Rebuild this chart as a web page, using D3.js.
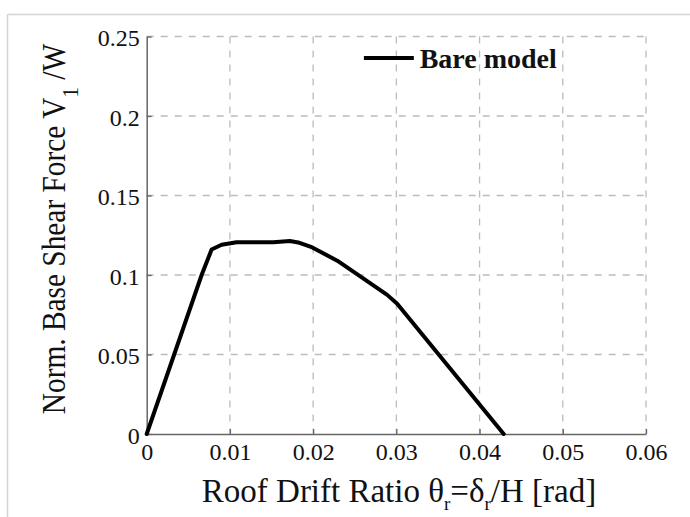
<!DOCTYPE html>
<html>
<head>
<meta charset="utf-8">
<script src="https://cdn.jsdelivr.net/npm/d3@7"></script>
<style>
  body { margin: 0; background: #fff; }
  svg { display: block; font-family: "Liberation Serif", "Times New Roman", serif; }
</style>
</head>
<body>
<svg id="chart"></svg>
<script>
// pushover curve, bare model
var drift = [0, 0.0066, 0.0078, 0.009, 0.0108, 0.0152, 0.0172, 0.0182, 0.0199, 0.0229, 0.0261, 0.0289, 0.0301, 0.0429];
var shear = [0, 0.100, 0.116, 0.119, 0.1206, 0.1206, 0.1214, 0.1205, 0.1173, 0.109, 0.0975, 0.0875, 0.0819, 0];

var xTicks = [0, 0.01, 0.02, 0.03, 0.04, 0.05, 0.06];
var xTickLabels = ["0", "0.01", "0.02", "0.03", "0.04", "0.05", "0.06"];
var yTicks = [0, 0.05, 0.1, 0.15, 0.2, 0.25];
var yTickLabels = ["0", "0.05", "0.1", "0.15", "0.2", "0.25"];
var seriesName = "Bare model";

var width = 690, height = 517;
var margin = { top: 36.5, right: 44, bottom: 83, left: 146.7 };
var innerW = width - margin.left - margin.right;
var innerH = height - margin.top - margin.bottom;

var svg = d3.select('#chart')
  .attr('width', width)
  .attr('height', height);

// thin frame of the original figure
svg.append('line').attr('x1', 7.5).attr('x2', width).attr('y1', 14.5).attr('y2', 14.5)
  .attr('stroke', '#d4d4d4').attr('stroke-width', 1.5);
svg.append('line').attr('x1', 7.5).attr('x2', 7.5).attr('y1', 14.5).attr('y2', height)
  .attr('stroke', '#d4d4d4').attr('stroke-width', 1.5);

var g = svg.append('g').attr('transform', 'translate(' + margin.left + ',' + margin.top + ')');

var x = d3.scaleLinear().domain([0, 0.06]).range([0, innerW]);
var y = d3.scaleLinear().domain([0, 0.25]).range([innerH, 0]);

// dashed grid
g.append('g').selectAll('line.vg')
  .data(xTicks.slice(1))
  .enter().append('line')
  .attr('class', 'vg')
  .attr('x1', d => x(d)).attr('x2', d => x(d))
  .attr('y1', 0).attr('y2', innerH)
  .attr('stroke', '#bcbcbc').attr('stroke-width', 1.3)
  .attr('stroke-dasharray', '7,7');

g.append('g').selectAll('line.hg')
  .data(yTicks.slice(1))
  .enter().append('line')
  .attr('class', 'hg')
  .attr('x1', 0).attr('x2', innerW)
  .attr('y1', d => y(d)).attr('y2', d => y(d))
  .attr('stroke', '#bcbcbc').attr('stroke-width', 1.3)
  .attr('stroke-dasharray', '7,7');

var xAxis = d3.axisBottom(x)
  .tickValues(xTicks)
  .tickFormat((d, i) => xTickLabels[i])
  .tickSizeInner(-5).tickSizeOuter(0).tickPadding(9);

var yAxis = d3.axisLeft(y)
  .tickValues(yTicks)
  .tickFormat((d, i) => yTickLabels[i])
  .tickSizeInner(-5).tickSizeOuter(0).tickPadding(7);

var gx = g.append('g')
  .attr('transform', 'translate(0,' + innerH + ')')
  .call(xAxis);
var gy = g.append('g').call(yAxis);

[gx, gy].forEach(a => {
  a.select('.domain').attr('stroke', '#666').attr('stroke-width', 1.5);
  a.selectAll('.tick line').attr('stroke', '#666').attr('stroke-width', 1.3);
  a.selectAll('text')
    .attr('fill', '#111')
    .style('font-family', '"Liberation Serif", serif')
    .style('font-size', '24px');
});
gx.selectAll('text').attr('dy', '0.71em');
gy.selectAll('text').attr('dy', '0.38em');

// curve
var pts = drift.map((d, i) => [d, shear[i]]);
g.append('path')
  .datum(pts)
  .attr('fill', 'none')
  .attr('stroke', '#000')
  .attr('stroke-width', 4)
  .attr('stroke-linejoin', 'round')
  .attr('stroke-linecap', 'round')
  .attr('d', d3.line().x(d => x(d[0])).y(d => y(d[1])));

// legend
var lg = g.append('g');
lg.append('line')
  .attr('x1', x(0.0261)).attr('x2', x(0.0321))
  .attr('y1', y(0.2365)).attr('y2', y(0.2365))
  .attr('stroke', '#000').attr('stroke-width', 4);
lg.append('text')
  .attr('x', x(0.0328)).attr('y', y(0.2365))
  .attr('dy', 10)
  .style('font-size', '28px')
  .style('font-weight', 'bold')
  .attr('fill', '#111')
  .text(seriesName);

// axis titles
var xt = svg.append('text')
  .attr('x', 399).attr('y', 502)
  .attr('text-anchor', 'middle')
  .style('font-size', '33px')
  .attr('fill', '#111');
xt.append('tspan').text('Roof Drift Ratio θ');
xt.append('tspan').attr('dy', 8).style('font-size', '19px').text('r');
xt.append('tspan').attr('dy', -8).text('=δ');
xt.append('tspan').attr('dy', 8).style('font-size', '19px').text('r');
xt.append('tspan').attr('dy', -8).text('/H [rad]');

var yt = svg.append('text')
  .attr('transform', 'translate(65,229) rotate(-90) scale(0.89,1)')
  .attr('text-anchor', 'middle')
  .style('font-size', '33px')
  .attr('fill', '#111');
yt.append('tspan').text('Norm. Base Shear Force V');
yt.append('tspan').attr('dy', 13).style('font-size', '24px').text('1');
yt.append('tspan').attr('dy', -13).text(' /W');
</script>
</body>
</html>
